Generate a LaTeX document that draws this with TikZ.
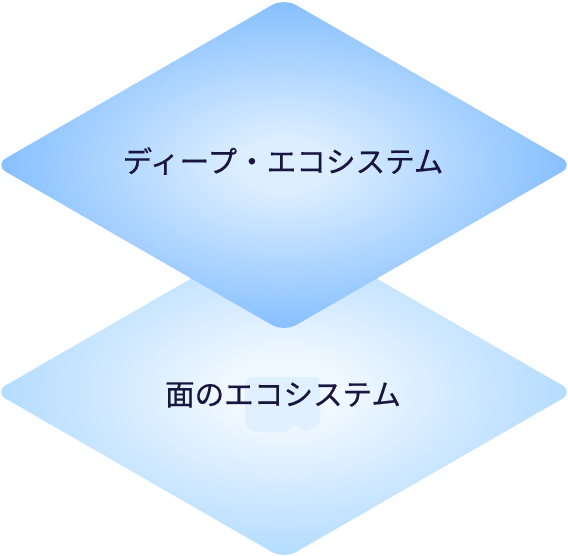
\documentclass[tikz,border=0pt]{standalone}
\usepackage{fontspec}
\newfontfamily\jpfont[FakeBold=0.5]{Noto Sans CJK JP}
\usetikzlibrary{shapes.geometric}

\definecolor{deepedge}{RGB}{128,188,255}
\definecolor{deepcore}{RGB}{220,238,255}
\definecolor{surfaceedge}{RGB}{166,213,255}
\definecolor{surfacecore}{RGB}{240,248,255}
\definecolor{labelink}{RGB}{24,22,64}
\definecolor{patchfill}{RGB}{224,240,255}

% glow of each layer: light in the middle, blue towards the corners
\pgfdeclareradialshading{deepglow}{\pgfpoint{0bp}{0bp}}{color(0bp)=(deepcore); color(4bp)=(deepcore); color(26bp)=(deepedge); color(50bp)=(deepedge)}
\pgfdeclareradialshading{surfaceglow}{\pgfpoint{0bp}{0bp}}{color(0bp)=(surfacecore); color(5bp)=(surfacecore); color(29bp)=(surfaceedge); color(50bp)=(surfaceedge)}

\tikzset{
layer/.style={diamond, minimum width=580pt, minimum height=334pt, inner sep=0pt, rounded corners=14pt}, % one level of the ecosystem
layer text/.style={font=\jpfont\fontsize{29.6pt}{34pt}\selectfont, text=labelink}, % the name of a level
}

\begin{document}
\begin{tikzpicture}[x=1pt, y=-1pt]
  \useasboundingbox (0,0) rectangle (568,556);

  % Lower level
  \node[layer, shading=surfaceglow] (surface) at (284,392) {};
  \fill[patchfill, rounded corners=4pt] (245,381) -- (250,377) -- (318,377) -- (320,382) -- (320,425) -- (306,432) -- (294,425) -- (286,432) -- (252,432) -- (245,425) -- cycle;
  \node[layer text] (surface label) at (283,395) {面のエコシステム};

  % Upper level
  \node[layer, shading=deepglow] (deep) at (284,165) {};
  \node[layer text] (deep label) at (283,161) {ディープ・エコシステム};
\end{tikzpicture}
\end{document}
